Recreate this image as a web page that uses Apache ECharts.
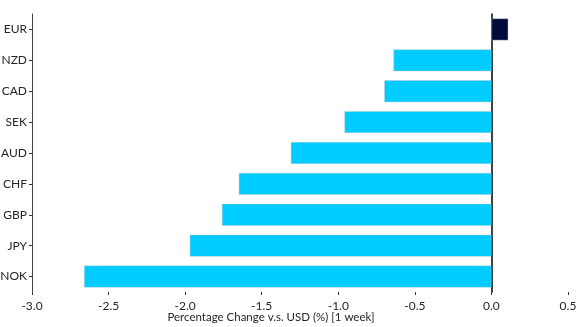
<!DOCTYPE html>
<html>
<head>
<meta charset="utf-8">
<script src="https://cdn.jsdelivr.net/npm/echarts@6/dist/echarts.min.js"></script>
<style>
  html, body { margin: 0; padding: 0; background: #fff; }
  #chart { width: 579px; height: 327px; }
</style>
</head>
<body>
<div id="chart"></div>
<script>
// Weekly currency moves against the US dollar, top to bottom
const currencies = ['EUR', 'NZD', 'CAD', 'SEK', 'AUD', 'CHF', 'GBP', 'JPY', 'NOK'];
const weeklyChange = [0.11, -0.64, -0.70, -0.96, -1.31, -1.65, -1.76, -1.97, -2.66];
const xTicks = { min: -3.0, max: 0.5, interval: 0.5 };

const GAIN_COLOR = '#000b3c';
const LOSS_COLOR = '#00ccff';
const FONT = 'Lato, "Open Sans", sans-serif';
const TEXT_COLOR = '#262626';

const chart = echarts.init(document.getElementById('chart'), null, { renderer: 'canvas' });

chart.setOption({
  animation: false,
  grid: {
    left: 32, right: 11, top: 14, bottom: 35,
    containLabel: false,
    outerBoundsMode: 'none'
  },
  xAxis: {
    type: 'value',
    min: xTicks.min,
    max: xTicks.max,
    interval: xTicks.interval,
    name: 'Percentage Change v.s. USD (%) [1 week]',
    nameLocation: 'middle',
    nameGap: 19,
    nameMoveOverlap: false,
    // extra right padding nudges the title a little left of the axis centre
    nameTextStyle: { fontFamily: FONT, fontSize: 11.5, color: TEXT_COLOR, padding: [0, 58, 0, 0] },
    axisLine: { onZero: false, lineStyle: { color: '#9a9a9a', width: 1.5 } },
    axisTick: { show: true, inside: false, length: 3, lineStyle: { color: '#333' } },
    axisLabel: {
      fontFamily: FONT, fontSize: 12, color: TEXT_COLOR, margin: 8,
      formatter: v => v.toFixed(1)
    },
    splitLine: { show: false }
  },
  yAxis: [
    {
      type: 'category',
      data: currencies,
      inverse: true,
      position: 'left',
      axisLine: { onZero: false, lineStyle: { color: '#444', width: 1 } },
      axisTick: { show: true, alignWithLabel: true, length: 3, lineStyle: { color: '#333' } },
      axisLabel: { fontFamily: FONT, fontSize: 12, color: TEXT_COLOR, margin: 5 },
      splitLine: { show: false }
    },
    {
      // zero reference line drawn behind the bars
      type: 'category',
      data: currencies,
      inverse: true,
      position: 'left',
      axisLine: { onZero: true, lineStyle: { color: '#000', width: 1.5 } },
      axisTick: { show: false },
      axisLabel: { show: false },
      splitLine: { show: false }
    }
  ],
  series: [{
    type: 'bar',
    yAxisIndex: 0,
    data: weeklyChange.map(v => ({
      value: v,
      itemStyle: { color: v >= 0 ? GAIN_COLOR : LOSS_COLOR }
    })),
    barWidth: 22,
    itemStyle: { borderColor: 'rgba(200,200,200,0.7)', borderWidth: 0.6 },
    z: 3
  }]
});
</script>
</body>
</html>
